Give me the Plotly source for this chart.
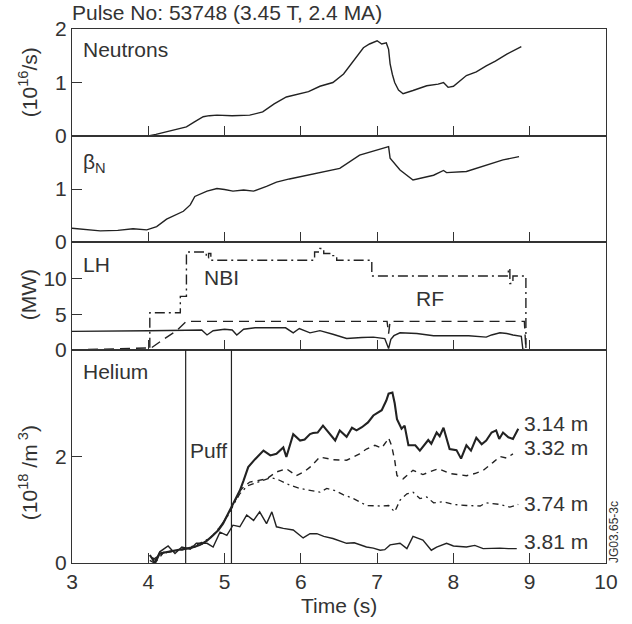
import plotly.graph_objects as go

# ---------------- data ----------------
T_NEUT = [3.0, 4.0, 4.1, 4.24, 4.4, 4.5, 4.6, 4.72, 4.8, 4.9, 5.1, 5.33, 5.5, 5.65, 5.81, 5.99, 6.1, 6.25,
          6.42, 6.56, 6.69, 6.82, 6.9, 6.95, 7.0, 7.06, 7.12, 7.15, 7.17, 7.2, 7.23, 7.28, 7.34, 7.47, 7.65,
          7.8, 7.87, 7.93, 8.0, 8.17, 8.3, 8.43, 8.55, 8.70, 8.89]
NEUT = [0, 0, 0.03, 0.08, 0.13, 0.17, 0.26, 0.36, 0.38, 0.39, 0.38, 0.39, 0.45, 0.6, 0.73, 0.79, 0.83, 0.93,
        1.0, 1.16, 1.41, 1.65, 1.72, 1.75, 1.78, 1.72, 1.74, 1.62, 1.35, 1.15, 1.0, 0.86, 0.79, 0.85, 0.94,
        0.97, 1.0, 0.91, 0.93, 1.13, 1.2, 1.31, 1.40, 1.53, 1.67]

T_BETA = [3.0, 3.2, 3.37, 3.6, 3.8, 3.98, 4.11, 4.24, 4.35, 4.46, 4.55, 4.61, 4.77, 4.9, 5.0, 5.11, 5.25,
          5.38, 5.55, 5.68, 5.85, 5.99, 6.25, 6.51, 6.77, 6.99, 7.13, 7.15, 7.17, 7.30, 7.47, 7.6, 7.74,
          7.87, 7.91, 8.17, 8.43, 8.65, 8.86]
BETA = [0.26, 0.23, 0.21, 0.22, 0.25, 0.23, 0.29, 0.43, 0.5, 0.58, 0.7, 0.86, 0.96, 1.01, 0.99, 0.96, 0.98,
        0.96, 1.05, 1.13, 1.19, 1.23, 1.31, 1.39, 1.64, 1.73, 1.79, 1.8, 1.58, 1.36, 1.17, 1.21, 1.26,
        1.35, 1.31, 1.33, 1.45, 1.55, 1.61]

T_LH = [3.0, 3.5, 4.0, 4.5, 4.7, 4.77, 4.85, 5.0, 5.1, 5.16, 5.25, 5.4, 5.8, 5.9, 5.98, 6.12, 6.25, 6.42,
        6.6, 6.8, 6.95, 7.1, 7.15, 7.18, 7.22, 7.3, 7.4, 7.52, 7.74, 8.0, 8.2, 8.43, 8.5, 8.61, 8.7, 8.78,
        8.89, 8.91, 8.95, 10.0]
LH = [2.6, 2.6, 2.7, 2.75, 2.8, 2.1, 2.7, 2.9, 2.8, 2.1, 2.9, 3.1, 3.1, 2.4, 3.0, 2.4, 2.7, 2.2,
      1.6, 1.75, 1.8, 1.6, 0.2, 1.5, 2.0, 2.4, 2.4, 2.3, 2.0, 2.0, 2.0, 1.8, 2.1, 2.4, 2.3, 2.1,
      1.9, 0.1, 0.0, 0.0]

T_NBI = [3.0, 4.02, 4.42, 4.5, 4.76, 4.79, 4.82, 6.18, 6.25, 6.3, 6.42, 6.47, 6.93, 8.72, 8.74, 8.78, 8.95, 10.0]
NBI = [0, 5.2, 7.5, 13.7, 12.9, 13.5, 12.55, 13.7, 14.2, 13.5, 13.2, 12.55, 10.35, 11.4, 9.3, 10.35, 0, 0]

T_RF = [3.0, 4.04, 4.2, 4.37, 4.5, 7.13, 7.15, 7.17, 8.93, 8.95, 10.0]
RF = [0, 0.3, 1.5, 2.7, 4.0, 4.0, 2.3, 4.0, 4.0, 0, 0]

PUFF_TIMES = [4.49, 5.09]

T_314 = [4.02, 4.09, 4.15, 4.28, 4.4, 4.5, 4.6, 4.68, 4.77, 4.85, 4.92, 4.98, 5.07, 5.14, 5.2, 5.25, 5.31,
         5.4, 5.51, 5.6, 5.68, 5.77, 5.81, 5.9, 5.99, 6.05, 6.12, 6.16, 6.22, 6.29, 6.37, 6.45, 6.51, 6.6,
         6.67, 6.73, 6.8, 6.88, 6.95, 7.06, 7.12, 7.15, 7.2, 7.23, 7.26, 7.32, 7.36, 7.41, 7.5, 7.56, 7.67,
         7.71, 7.78, 7.82, 7.87, 7.95, 8.04, 8.1, 8.17, 8.23, 8.3, 8.37, 8.43, 8.5, 8.56, 8.6, 8.65, 8.72,
         8.78, 8.85]
HE_314 = [0.15, 0.0, 0.18, 0.22, 0.25, 0.27, 0.3, 0.34, 0.42, 0.52, 0.62, 0.74, 0.99, 1.2, 1.36, 1.55, 1.8,
          1.95, 2.11, 2.02, 2.05, 2.17, 1.99, 2.42, 2.3, 2.32, 2.42, 2.44, 2.45, 2.58, 2.45, 2.3, 2.49, 2.37,
          2.54, 2.49, 2.55, 2.64, 2.77, 2.87, 3.05, 3.18, 3.2, 3.0, 2.7, 2.52, 2.58, 2.21, 2.21, 2.11, 2.31,
          2.24, 2.45, 2.38, 2.54, 2.14, 2.12, 1.96, 2.21, 2.11, 2.35, 2.23, 2.3, 2.45, 2.49, 2.33, 2.45, 2.36,
          2.33, 2.52]

T_332 = [4.05, 4.12, 4.2, 4.3, 4.4, 4.5, 4.6, 4.7, 4.8, 4.9, 5.0, 5.1, 5.2, 5.25, 5.33, 5.45, 5.55, 5.68,
         5.81, 5.94, 6.05, 6.12, 6.25, 6.42, 6.6, 6.77, 6.86, 6.97, 7.06, 7.12, 7.15, 7.19, 7.23, 7.26, 7.34,
         7.47, 7.6, 7.74, 7.81, 7.95, 8.05, 8.17, 8.28, 8.39, 8.52, 8.61, 8.7, 8.78]
HE_332 = [0.1, 0.05, 0.2, 0.22, 0.25, 0.26, 0.3, 0.35, 0.45, 0.6, 0.8, 1.05, 1.35, 1.43, 1.52, 1.55, 1.58, 1.71,
          1.77, 1.64, 1.72, 1.8, 1.99, 1.94, 1.93, 2.05, 2.14, 2.21, 2.16, 2.28, 2.35, 2.2, 1.93, 1.64, 1.58,
          1.74, 1.66, 1.74, 1.77, 1.68, 1.66, 1.64, 1.68, 1.74, 1.89, 2.0, 1.97, 2.05]

T_374 = [4.05, 4.15, 4.25, 4.35, 4.45, 4.55, 4.65, 4.75, 4.85, 4.95, 5.05, 5.1, 5.2, 5.3, 5.45, 5.6, 5.68,
         5.77, 5.86, 5.99, 6.12, 6.25, 6.34, 6.45, 6.56, 6.69, 6.86, 7.04, 7.15, 7.23, 7.3, 7.39, 7.47, 7.56,
         7.65, 7.74, 7.87, 8.0, 8.17, 8.35, 8.43, 8.61, 8.74, 8.85]
HE_374 = [0.05, 0.15, 0.2, 0.22, 0.25, 0.3, 0.35, 0.42, 0.52, 0.7, 0.9, 1.05, 1.3, 1.45, 1.52, 1.6, 1.58,
          1.52, 1.46, 1.4, 1.36, 1.33, 1.4, 1.36, 1.28, 1.21, 1.08, 1.07, 1.08, 0.96, 1.18, 1.3, 1.33, 1.21,
          1.24, 1.13, 1.15, 1.1, 1.08, 1.07, 1.13, 1.1, 1.05, 1.1]

T_381 = [4.02, 4.08, 4.15, 4.26, 4.35, 4.44, 4.55, 4.63, 4.77, 4.85, 4.94, 5.03, 5.11, 5.2, 5.29, 5.38, 5.46,
         5.55, 5.62, 5.68, 5.77, 5.9, 6.03, 6.12, 6.21, 6.3, 6.42, 6.5, 6.6, 6.7, 6.86, 6.95, 7.04, 7.1, 7.17,
         7.3, 7.39, 7.47, 7.6, 7.71, 7.78, 7.91, 8.0, 8.17, 8.28, 8.39, 8.5, 8.61, 8.72, 8.83]
HE_381 = [0.05, 0.0, 0.21, 0.32, 0.18, 0.3, 0.26, 0.37, 0.37, 0.3, 0.58, 0.52, 0.71, 0.68, 0.9, 0.8, 0.96,
          0.74, 0.96, 0.68, 0.65, 0.62, 0.47, 0.55, 0.55, 0.5, 0.46, 0.42, 0.37, 0.38, 0.3, 0.28, 0.24, 0.25,
          0.34, 0.37, 0.27, 0.5, 0.43, 0.24, 0.3, 0.37, 0.32, 0.3, 0.33, 0.27, 0.28, 0.28, 0.27, 0.27]

X_TICKS = [3, 4, 5, 6, 7, 8, 9, 10]
HE_LABELS = ["3.14 m", "3.32 m", "3.74 m", "3.81 m"]

# ---------------- figure ----------------
INK = "#222222"
TXT = "#333333"
FONT = "Liberation Sans, Arial, sans-serif"
FS = 21

fig = go.Figure()

def line(x, y, ax, width=1.4, dash="solid", shape="linear"):
    fig.add_trace(go.Scatter(x=x, y=y, mode="lines", xaxis="x" + ax, yaxis="y" + ax,
                             line=dict(color=INK, width=width, dash=dash, shape=shape),
                             showlegend=False, hoverinfo="skip"))

line(T_NEUT, NEUT, "")
line(T_BETA, BETA, "2")
line(T_LH, LH, "3")
line(T_NBI, NBI, "3", dash="10px,4px,2px,4px", shape="hv")
line(T_RF, RF, "3", dash="10px,6px")
for t in PUFF_TIMES:
    line([t, t], [0, 4], "4", width=1.2)
line(T_381, HE_381, "4", width=1.4)
line(T_374, HE_374, "4", width=1.3, dash="6px,4px,2px,4px")
line(T_332, HE_332, "4", width=1.4, dash="6px,5px")
line(T_314, HE_314, "4", width=2.1)

domains = [[0.7996, 1.0], [0.6011, 0.7996], [0.3989, 0.6011], [0.0, 0.3989]]
yranges = [[0, 2], [0, 2], [0, 15.1], [0, 4]]
yticks = [[0, 1, 2], [0, 1], [0, 5, 10], [0, 2]]

axcommon = dict(showline=True, mirror=True, linecolor="#333333", linewidth=1, showgrid=False,
                zeroline=False, ticks="inside", ticklen=10, tickwidth=1, tickcolor="#333333",
                tickfont=dict(family=FONT, size=FS, color=TXT))

layout = dict(width=632, height=624, margin=dict(l=72, r=26, t=29, b=61),
              paper_bgcolor="white", plot_bgcolor="white",
              font=dict(family=FONT, size=FS, color=TXT))
for i in range(4):
    s = "" if i == 0 else str(i + 1)
    layout["xaxis" + s] = dict(axcommon, domain=[0, 1], range=[3, 10], anchor="y" + s,
                               tickvals=X_TICKS, showticklabels=(i == 3),
                               **({} if i == 0 else {"matches": "x"}))
    layout["yaxis" + s] = dict(axcommon, domain=domains[i], range=yranges[i], anchor="x" + s,
                               tickvals=yticks[i])
fig.update_layout(**layout)

ann = []
def txt(text, x, y, ax, size=FS, xanchor="left", yanchor="middle"):
    ann.append(dict(text=text, x=x, y=y, xref="x" + ax, yref="y" + ax, showarrow=False,
                    xanchor=xanchor, yanchor=yanchor, font=dict(family=FONT, size=size, color=TXT)))

txt("Neutrons", 3.12, 1.62, "")
txt("β<sub>N</sub>", 3.12, 1.5, "2")
txt("LH", 3.12, 12.0, "3")
txt("NBI", 4.71, 10.1, "3")
txt("RF", 7.48, 7.15, "3")
txt("Helium", 3.12, 3.6, "4")
txt("Puff", 4.79, 2.12, "4", xanchor="center")
for lab, yv in zip(HE_LABELS, [2.62, 2.17, 1.12, 0.4]):
    txt(lab, 8.9, yv, "4")

def ptxt(text, x, y, angle=0, size=FS, xanchor="center", yanchor="middle"):
    ann.append(dict(text=text, x=x, y=y, xref="paper", yref="paper", showarrow=False,
                    textangle=angle, xanchor=xanchor, yanchor=yanchor,
                    font=dict(family=FONT, size=size, color=TXT)))

ptxt("Pulse No: 53748 (3.45 T, 2.4 MA)", -0.003, 1.03, xanchor="left")
ptxt("(10<sup>16</sup>/s)", -0.082, (563 - 82) / 534, angle=-90)
ptxt("(MW)", -0.082, (563 - 295) / 534, angle=-90)
ptxt("(10<sup>18</sup> /m<sup> 3</sup>)", -0.082, (563 - 473) / 534, angle=-90)
ptxt("Time (s)", 0.5, (563 - 605) / 534)
ptxt("JG03.65-3c", (614 - 72) / 534, (563 - 532) / 534, angle=-90, size=12)

fig.update_layout(annotations=ann)
fig.write_html("out.html")
